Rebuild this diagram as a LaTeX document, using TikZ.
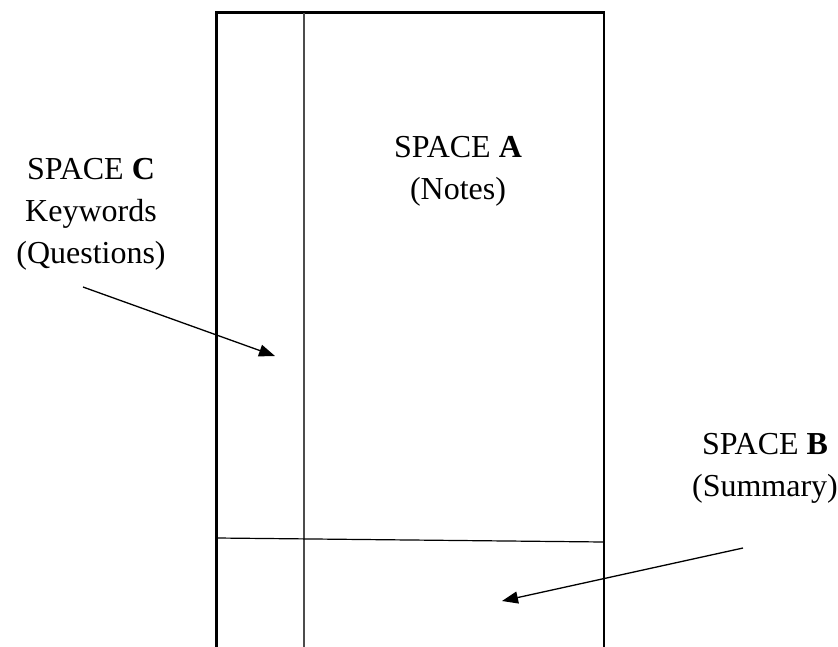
\documentclass[tikz,border=0pt]{standalone}
\usepackage{fontspec}
\setmainfont{Liberation Serif}
\usetikzlibrary{arrows.meta}
\begin{document}
\begin{tikzpicture}[x=1pt,y=-1pt,
  frame/.style={line width=2.6pt,black},
  divider/.style={line width=1.8pt,black!70},
  sumline/.style={line width=1.2pt,black},
  pointer/.style={line width=1.3pt,-{Triangle[length=16pt,width=12pt]}},
  label/.style={align=center,inner sep=0pt,anchor=north,
    font=\fontsize{32}{42}\selectfont}]
\useasboundingbox (0,0) rectangle (838,646);
% page frame
\draw[frame] (216.5,670) -- (216.5,12.5) -- (604,12.5) -- (604,670);
\draw[divider] (304,13) -- (304,670);
\draw[sumline] (217,538) -- (604,542);
% labels
\node[label] (spA) at (458,136) {SPACE \textbf{A}\\(Notes)};
\node[label] (spC) at (91,158) {SPACE \textbf{C}\\Keywords\\(Questions)};
\node[label] (spB) at (765,433) {SPACE \textbf{B}\\(Summary)};
% pointers
\coordinate (cTail) at (83,287);
\coordinate (cHead) at (275,356);
\coordinate (bTail) at (743,548);
\coordinate (bHead) at (502,601);
\draw[pointer] (cTail) -- (cHead);
\draw[pointer] (bTail) -- (bHead);
\end{tikzpicture}
\end{document}
